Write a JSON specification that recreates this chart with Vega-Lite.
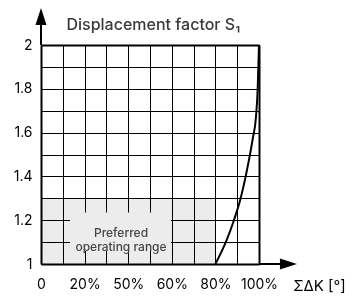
{
  "$schema": "https://vega.github.io/schema/vega-lite/v6.json",
  "width": 218,
  "height": 219,
  "autosize": "none",
  "padding": {"left": 41, "top": 45, "right": 100, "bottom": 34},
  "background": "white",
  "config": {
    "view": {"stroke": null},
    "font": "Inter",
    "axis": {
      "ticks": false, "grid": true,
      "domainColor": "black", "domainWidth": 2, "gridColor": "black",
      "labelFontSize": 14, "labelColor": "black",
      "labelFlush": false, "labelOverlap": false
    },
    "axisX": {"labelPadding": 13, "titleX": 278, "titleY": 26, "titleAlign": "center", "titleBaseline": "alphabetic", "titleFontSize": 15, "titleFontWeight": "normal", "titleColor": "black"},
    "axisY": {"labelPadding": 9, "titleAngle": 0, "titleX": 25, "titleY": -16, "titleAlign": "left", "titleBaseline": "alphabetic", "titleFontSize": 16, "titleFontWeight": 500, "titleColor": "#3a3a3a"}
  },
  "datasets": {
    "curve": [
      {"x": 80, "y": 1.0},
      {"x": 85.2, "y": 1.11},
      {"x": 88.5, "y": 1.2},
      {"x": 91.3, "y": 1.29},
      {"x": 94.5, "y": 1.43},
      {"x": 97.1, "y": 1.57},
      {"x": 98.6, "y": 1.67},
      {"x": 99.4, "y": 1.8},
      {"x": 100, "y": 2.0}
    ],
    "range": [{"x0": 0, "x1": 80, "y0": 1, "y1": 1.3}]
  },
  "layer": [
    {
      "data": {"name": "range"},
      "mark": {"type": "rect", "fill": "#ececec", "blend": "multiply"},
      "encoding": {
        "x": {"field": "x0", "type": "quantitative", "title": "ΣΔK [°]", "scale": {"domain": [0, 100], "nice": false, "zero": false},
          "axis": {"values": [0, 10, 20, 30, 40, 50, 60, 70, 80, 90, 100], "labelExpr": "datum.value == 0 ? '0' : round(datum.value) == 40 ? '50%' : round(datum.value) % 20 == 0 ? round(datum.value) + '%' : ''", "gridWidth": {"condition": {"test": "datum.value > 99.9", "value": 2}, "value": 1}}},
        "x2": {"field": "x1"},
        "y": {"field": "y0", "type": "quantitative", "title": "Displacement factor S₁", "scale": {"domain": [1, 2], "nice": false, "zero": false},
          "axis": {"values": [1, 1.1, 1.2, 1.3, 1.4, 1.5, 1.6, 1.7, 1.8, 1.9, 2], "labelExpr": "round(datum.value*10) % 2 == 0 ? format(datum.value, '.2~f') : ''", "gridWidth": {"condition": {"test": "datum.value > 1.99", "value": 2}, "value": 1}}},
        "y2": {"field": "y1"}
      }
    },
    {
      "data": {"values": [{}]},
      "mark": {"type": "rect", "fill": "#ececec"},
      "encoding": {
        "x": {"datum": 13.3, "type": "quantitative", "title": "ΣΔK [°]", "scale": {"domain": [0, 100], "nice": false, "zero": false},
          "axis": {"values": [0, 10, 20, 30, 40, 50, 60, 70, 80, 90, 100], "labelExpr": "datum.value == 0 ? '0' : round(datum.value) == 40 ? '50%' : round(datum.value) % 20 == 0 ? round(datum.value) + '%' : ''", "gridWidth": {"condition": {"test": "datum.value > 99.9", "value": 2}, "value": 1}}},
        "x2": {"datum": 59.6},
        "y": {"datum": 1.059, "type": "quantitative", "title": "Displacement factor S₁", "scale": {"domain": [1, 2], "nice": false, "zero": false},
          "axis": {"values": [1, 1.1, 1.2, 1.3, 1.4, 1.5, 1.6, 1.7, 1.8, 1.9, 2], "labelExpr": "round(datum.value*10) % 2 == 0 ? format(datum.value, '.2~f') : ''", "gridWidth": {"condition": {"test": "datum.value > 1.99", "value": 2}, "value": 1}}},
        "y2": {"datum": 1.235}
      }
    },
    {
      "data": {"values": [{}]},
      "mark": {"type": "text", "text": ["Preferred", "operating range"], "fontSize": 12, "fontWeight": 500, "color": "#444444", "lineHeight": 14, "align": "center", "baseline": "middle"},
      "encoding": {
        "x": {"datum": 36.7, "type": "quantitative", "title": "ΣΔK [°]", "scale": {"domain": [0, 100], "nice": false, "zero": false},
          "axis": {"values": [0, 10, 20, 30, 40, 50, 60, 70, 80, 90, 100], "labelExpr": "datum.value == 0 ? '0' : round(datum.value) == 40 ? '50%' : round(datum.value) % 20 == 0 ? round(datum.value) + '%' : ''", "gridWidth": {"condition": {"test": "datum.value > 99.9", "value": 2}, "value": 1}}},
        "y": {"datum": 1.14, "type": "quantitative", "title": "Displacement factor S₁", "scale": {"domain": [1, 2], "nice": false, "zero": false},
          "axis": {"values": [1, 1.1, 1.2, 1.3, 1.4, 1.5, 1.6, 1.7, 1.8, 1.9, 2], "labelExpr": "round(datum.value*10) % 2 == 0 ? format(datum.value, '.2~f') : ''", "gridWidth": {"condition": {"test": "datum.value > 1.99", "value": 2}, "value": 1}}}
      }
    },
    {
      "data": {"name": "curve"},
      "mark": {"type": "line", "color": "black", "strokeWidth": 2, "interpolate": "monotone"},
      "encoding": {
        "x": {"field": "x", "type": "quantitative", "title": "ΣΔK [°]", "scale": {"domain": [0, 100], "nice": false, "zero": false},
          "axis": {"values": [0, 10, 20, 30, 40, 50, 60, 70, 80, 90, 100], "labelExpr": "datum.value == 0 ? '0' : round(datum.value) == 40 ? '50%' : round(datum.value) % 20 == 0 ? round(datum.value) + '%' : ''", "gridWidth": {"condition": {"test": "datum.value > 99.9", "value": 2}, "value": 1}}},
        "y": {"field": "y", "type": "quantitative", "title": "Displacement factor S₁", "scale": {"domain": [1, 2], "nice": false, "zero": false},
          "axis": {"values": [1, 1.1, 1.2, 1.3, 1.4, 1.5, 1.6, 1.7, 1.8, 1.9, 2], "labelExpr": "round(datum.value*10) % 2 == 0 ? format(datum.value, '.2~f') : ''", "gridWidth": {"condition": {"test": "datum.value > 1.99", "value": 2}, "value": 1}}}
      }
    },
    {
      "data": {"values": [{}]},
      "mark": {"type": "rule", "color": "black", "strokeWidth": 2},
      "encoding": {
        "x": {"datum": 0, "type": "quantitative", "title": "ΣΔK [°]", "scale": {"domain": [0, 100], "nice": false, "zero": false},
          "axis": {"values": [0, 10, 20, 30, 40, 50, 60, 70, 80, 90, 100], "labelExpr": "datum.value == 0 ? '0' : round(datum.value) == 40 ? '50%' : round(datum.value) % 20 == 0 ? round(datum.value) + '%' : ''", "gridWidth": {"condition": {"test": "datum.value > 99.9", "value": 2}, "value": 1}}},
        "y": {"datum": 2, "type": "quantitative", "title": "Displacement factor S₁", "scale": {"domain": [1, 2], "nice": false, "zero": false},
          "axis": {"values": [1, 1.1, 1.2, 1.3, 1.4, 1.5, 1.6, 1.7, 1.8, 1.9, 2], "labelExpr": "round(datum.value*10) % 2 == 0 ? format(datum.value, '.2~f') : ''", "gridWidth": {"condition": {"test": "datum.value > 1.99", "value": 2}, "value": 1}}},
        "y2": {"datum": 2.095}
      }
    },
    {
      "data": {"values": [{}]},
      "mark": {"type": "rule", "color": "black", "strokeWidth": 2},
      "encoding": {
        "x": {"datum": 100, "type": "quantitative", "title": "ΣΔK [°]", "scale": {"domain": [0, 100], "nice": false, "zero": false},
          "axis": {"values": [0, 10, 20, 30, 40, 50, 60, 70, 80, 90, 100], "labelExpr": "datum.value == 0 ? '0' : round(datum.value) == 40 ? '50%' : round(datum.value) % 20 == 0 ? round(datum.value) + '%' : ''", "gridWidth": {"condition": {"test": "datum.value > 99.9", "value": 2}, "value": 1}}},
        "x2": {"datum": 110},
        "y": {"datum": 1, "type": "quantitative", "title": "Displacement factor S₁", "scale": {"domain": [1, 2], "nice": false, "zero": false},
          "axis": {"values": [1, 1.1, 1.2, 1.3, 1.4, 1.5, 1.6, 1.7, 1.8, 1.9, 2], "labelExpr": "round(datum.value*10) % 2 == 0 ? format(datum.value, '.2~f') : ''", "gridWidth": {"condition": {"test": "datum.value > 1.99", "value": 2}, "value": 1}}}
      }
    },
    {
      "data": {"values": [{}]},
      "mark": {"type": "point", "shape": "M0,-1L0.65,1L-0.65,1Z", "size": 289, "filled": true, "color": "black", "opacity": 1},
      "encoding": {
        "x": {"datum": 0, "type": "quantitative", "title": "ΣΔK [°]", "scale": {"domain": [0, 100], "nice": false, "zero": false},
          "axis": {"values": [0, 10, 20, 30, 40, 50, 60, 70, 80, 90, 100], "labelExpr": "datum.value == 0 ? '0' : round(datum.value) == 40 ? '50%' : round(datum.value) % 20 == 0 ? round(datum.value) + '%' : ''", "gridWidth": {"condition": {"test": "datum.value > 99.9", "value": 2}, "value": 1}}},
        "y": {"datum": 2.13, "type": "quantitative", "title": "Displacement factor S₁", "scale": {"domain": [1, 2], "nice": false, "zero": false},
          "axis": {"values": [1, 1.1, 1.2, 1.3, 1.4, 1.5, 1.6, 1.7, 1.8, 1.9, 2], "labelExpr": "round(datum.value*10) % 2 == 0 ? format(datum.value, '.2~f') : ''", "gridWidth": {"condition": {"test": "datum.value > 1.99", "value": 2}, "value": 1}}}
      }
    },
    {
      "data": {"values": [{}]},
      "mark": {"type": "point", "shape": "M1,0L-1,0.65L-1,-0.65Z", "size": 289, "filled": true, "color": "black", "opacity": 1},
      "encoding": {
        "x": {"datum": 113.5, "type": "quantitative", "title": "ΣΔK [°]", "scale": {"domain": [0, 100], "nice": false, "zero": false},
          "axis": {"values": [0, 10, 20, 30, 40, 50, 60, 70, 80, 90, 100], "labelExpr": "datum.value == 0 ? '0' : round(datum.value) == 40 ? '50%' : round(datum.value) % 20 == 0 ? round(datum.value) + '%' : ''", "gridWidth": {"condition": {"test": "datum.value > 99.9", "value": 2}, "value": 1}}},
        "y": {"datum": 1, "type": "quantitative", "title": "Displacement factor S₁", "scale": {"domain": [1, 2], "nice": false, "zero": false},
          "axis": {"values": [1, 1.1, 1.2, 1.3, 1.4, 1.5, 1.6, 1.7, 1.8, 1.9, 2], "labelExpr": "round(datum.value*10) % 2 == 0 ? format(datum.value, '.2~f') : ''", "gridWidth": {"condition": {"test": "datum.value > 1.99", "value": 2}, "value": 1}}}
      }
    }
  ]
}
